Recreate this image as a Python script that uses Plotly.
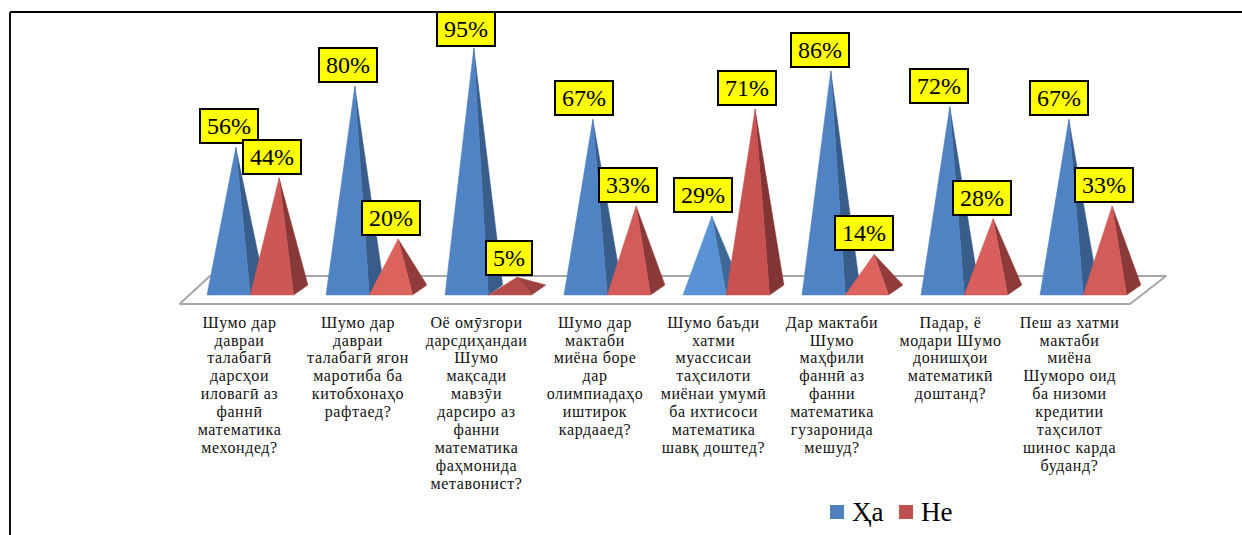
import plotly.graph_objects as go

CATEGORIES = [
    "Шумо дар|давраи|талабагӣ|дарсҳои|иловагӣ аз|фаннӣ|математика|мехондед?",
    "Шумо дар|давраи|талабагӣ ягон|маротиба ба|китобхонаҳо|рафтаед?",
    "Оё омӯзгори|дарсдиҳандаи|Шумо|мақсади|мавзӯи|дарсиро аз|фанни|математика|фаҳмонида|метавонист?",
    "Шумо дар|мактаби|миёна боре|дар|олимпиадаҳо|иштирок|кардааед?",
    "Шумо баъди|хатми|муассисаи|таҳсилоти|миёнаи умумӣ|ба ихтисоси|математика|шавқ доштед?",
    "Дар мактаби|Шумо|маҳфили|фаннӣ аз|фанни|математика|гузаронида|мешуд?",
    "Падар, ё|модари Шумо|донишҳои|математикӣ|доштанд?",
    "Пеш аз хатми|мактаби|миёна|Шуморо оид|ба низоми|кредитии|таҳсилот|шинос карда|буданд?",
]
YES_NAME = "Ҳа"
NO_NAME = "Не"
YES_VALUES = [56, 80, 95, 67, 29, 86, 72, 67]
NO_VALUES = [44, 20, 5, 33, 71, 14, 28, 33]

YES_FRONT = ["#5083c3", "#5083c3", "#5083c3", "#5083c3", "#5a92d6", "#5083c3", "#5083c3", "#5083c3"]
YES_SIDE = ["#385d8a", "#385d8a", "#385d8a", "#385d8a", "#3f6898", "#385d8a", "#385d8a", "#385d8a"]
NO_FRONT = ["#cc5755", "#dc625e", "#b44c49", "#d35b58", "#c9514f", "#dc625e", "#d95f5c", "#d35b58"]
NO_SIDE = ["#873837", "#903c3b", "#9c4240", "#893938", "#823534", "#903c3b", "#8d3a39", "#893938"]

YES_BOX_SHIFT = [-7, -7.2, -8, -8.5, -9.3, -11, -10.5, -10]
NO_BOX_SHIFT = [-7, -7, -8.5, -8, -8.5, -10, -11, -8]
YES_BOX_LIFT = [3, 3, 1, 3, 3, 3, 3, 3]
NO_BOX_LIFT = [3, 3, 1, 3, 3, 3, 3, 3]

# Geometry of the projection, in pixels of a 1242x535 page
W, H = 1242, 535
PITCH = 119.0
FIRST_LEFT = 207.0
BASE_PX = 295.0
FLOOR_BOTTOM_PX = 305.0
PX_PER_PCT = 2.547
BASE_W = 43.3
DEPTH_X = 14.3
DEPTH_Y = 10.0


def ux(px):
    return px / PITCH


def uy(px):
    return px / PX_PER_PCT


x_range = [-ux(FIRST_LEFT), ux(W - FIRST_LEFT)]
y_range = [-uy(FLOOR_BOTTOM_PX - BASE_PX), uy(BASE_PX)]

fig = go.Figure()

# floor
fx = [ux(179.5 - FIRST_LEFT), ux(210 - FIRST_LEFT), ux(1166 - FIRST_LEFT), ux(1130 - FIRST_LEFT), ux(179.5 - FIRST_LEFT)]
fy = [uy(BASE_PX - 304), uy(BASE_PX - 276), uy(BASE_PX - 276), uy(BASE_PX - 304), uy(BASE_PX - 304)]
fig.add_trace(go.Scatter(x=fx, y=fy, mode="lines", fill="toself", fillcolor="#ffffff",
                         line=dict(color="#a6a6a6", width=2), showlegend=False, hoverinfo="skip"))


def pyramid(i, value, left_px, front, side, name):
    x0 = i + ux(left_px)
    x1 = x0 + ux(BASE_W)
    xb = x1 + ux(DEPTH_X)
    xa = (x0 + xb) / 2
    ya = value + uy(DEPTH_Y / 2)
    fig.add_trace(go.Scatter(x=[x1, xb, xa, x1], y=[0, uy(DEPTH_Y), ya, 0], mode="lines", fill="toself",
                             fillcolor=side, line=dict(color=side, width=0.5), name=name,
                             showlegend=False, hoverinfo="skip"))
    fig.add_trace(go.Scatter(x=[x0, x1, xa, x0], y=[0, 0, ya, 0], mode="lines", fill="toself",
                             fillcolor=front, line=dict(color=front, width=0.5), name=name,
                             showlegend=False, hoverinfo="skip"))
    return xa, ya


annotations = []
for i, (yv, nv) in enumerate(zip(YES_VALUES, NO_VALUES)):
    for value, left, front, side, name, shift, lift in (
        (yv, 0.0, YES_FRONT[i], YES_SIDE[i], YES_NAME, YES_BOX_SHIFT[i], YES_BOX_LIFT[i]),
        (nv, BASE_W, NO_FRONT[i], NO_SIDE[i], NO_NAME, NO_BOX_SHIFT[i], NO_BOX_LIFT[i]),
    ):
        xa, ya = pyramid(i, value, left, front, side, name)
        narrow = value < 10
        annotations.append(dict(
            x=xa, y=ya, xref="x", yref="y", text=f"{value}%", showarrow=False,
            xanchor="center", yanchor="bottom", xshift=shift, yshift=lift,
            width=44 if narrow else 56, height=32, align="center", valign="middle",
            bgcolor="#ffff00", bordercolor="#000000", borderwidth=2, borderpad=0,
            font=dict(family="Liberation Serif", size=24, color="#000000"),
        ))

# legend row
LEG_COLORS = ["#4f81bd", "#c0504d"]
for name, sq, tx, col in ((YES_NAME, 830, 850, LEG_COLORS[0]), (NO_NAME, 899, 919, LEG_COLORS[1])):
    annotations.append(dict(
        x=tx / W, y=1 - 512 / FLOOR_BOTTOM_PX, xref="paper", yref="paper", text=name, showarrow=False,
        xanchor="left", yanchor="middle", font=dict(family="Liberation Serif", size=27, color="#000000"),
    ))

shapes = [
    dict(type="rect", xref="paper", yref="paper", x0=sq / W, x1=(sq + 14) / W,
         y0=1 - 519 / FLOOR_BOTTOM_PX, y1=1 - 505 / FLOOR_BOTTOM_PX, fillcolor=col, line=dict(width=0))
    for sq, col in ((830, LEG_COLORS[0]), (899, LEG_COLORS[1]))
]
# frame
shapes += [
    dict(type="line", xref="paper", yref="paper", x0=10 / W, x1=1, y0=1 - 12 / FLOOR_BOTTOM_PX, y1=1 - 12 / FLOOR_BOTTOM_PX,
         line=dict(color="#000000", width=2)),
    dict(type="line", xref="paper", yref="paper", x0=10 / W, x1=10 / W, y0=1 - 12 / FLOOR_BOTTOM_PX, y1=1 - H / FLOOR_BOTTOM_PX,
         line=dict(color="#111111", width=2)),
]

LABEL_CENTER_PX = 32.0
LABEL_NUDGE_PX = [0.5, 0, -0.5, -1, -1.5, -2, -2.5, -2.5]
tickvals = [i + ux(LABEL_CENTER_PX + n) for i, n in enumerate(LABEL_NUDGE_PX)]
LINE_STYLE = "font-size:16px;letter-spacing:0.6px"
ticktext = ["<br>".join(f'<span style="{LINE_STYLE}">{line}</span>' for line in cat.split("|")) for cat in CATEGORIES]

fig.update_layout(
    width=W, height=H, margin=dict(l=0, r=0, t=0, b=H - FLOOR_BOTTOM_PX),
    paper_bgcolor="#ffffff", plot_bgcolor="#ffffff", showlegend=False,
    annotations=annotations, shapes=shapes,
    xaxis=dict(range=x_range, showgrid=False, zeroline=False, showline=False,
               tickmode="array", tickvals=tickvals, ticktext=ticktext, tickangle=0,
               ticks="outside", ticklen=5, tickcolor="rgba(0,0,0,0)",
               tickfont=dict(family="Liberation Serif", size=13.8, color="#111111"), automargin=False),
    yaxis=dict(range=y_range, visible=False),
)

fig.write_html("out.html", post_script="document.body.style.margin='0';", config={"displayModeBar": False})
